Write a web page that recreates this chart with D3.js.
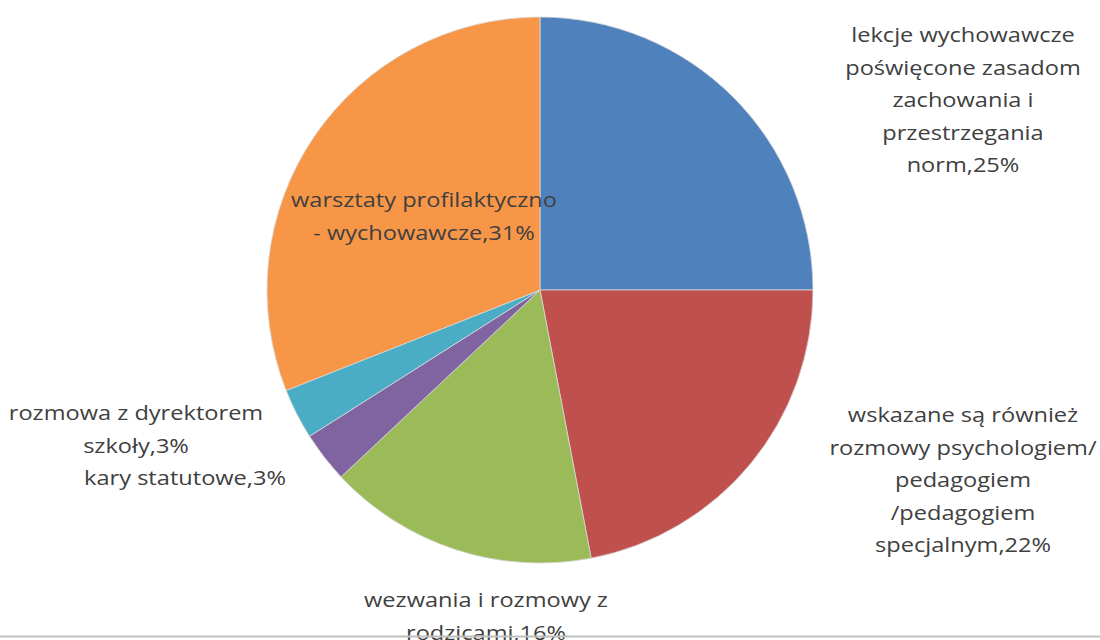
<!DOCTYPE html>
<html>
<head>
<meta charset="utf-8">
<script src="https://cdn.jsdelivr.net/npm/d3@7"></script>
<style>
  body { margin: 0; background: #fff; }
  svg { display: block; }
</style>
</head>
<body>
<div id="chart"></div>
<script>
var categories = [
  "lekcje wychowawcze poświęcone zasadom zachowania i przestrzegania norm",
  "wskazane są również rozmowy psychologiem/ pedagogiem /pedagogiem specjalnym",
  "wezwania i rozmowy z rodzicami",
  "kary statutowe",
  "rozmowa z dyrektorem szkoły",
  "warsztaty profilaktyczno - wychowawcze"
];
var values = [25, 22, 16, 3, 3, 31];
var colors = ["#4f81bd", "#c0504d", "#9bbb59", "#8064a2", "#4bacc6", "#f79646"];
// label text as wrapped in the chart
var labelLines = [
  ["lekcje wychowawcze", "poświęcone zasadom", "zachowania i", "przestrzegania", "norm,25%"],
  ["wskazane są również", "rozmowy psychologiem/", "pedagogiem", "/pedagogiem", "specjalnym,22%"],
  ["wezwania i rozmowy z", "rodzicami,16%"],
  ["kary statutowe,3%"],
  ["rozmowa z dyrektorem", "szkoły,3%"],
  ["warsztaty profilaktyczno", "- wychowawcze,31%"]
];

var width = 1100, height = 640;
var svg = d3.select("#chart").append("svg").attr("width", width).attr("height", height);

var cx = 540, cy = 290, radius = 273;
var g = svg.append("g").attr("transform", "translate(" + cx + "," + cy + ")");

var pie = d3.pie().sort(null).value(function (d) { return d; });
var arc = d3.arc().innerRadius(0).outerRadius(radius);
var arcs = pie(values);

g.selectAll(".slice")
  .data(arcs)
  .enter().append("path")
  .attr("class", "slice")
  .attr("d", arc)
  .attr("fill", function (d, i) { return colors[i]; })
  .attr("stroke", "#d8d8d8")
  .attr("stroke-width", 0.8);

// label anchor positions (center of first line), relative to the pie center
var labelPos = [
  {x: 423, y: -255},
  {x: 423, y: 125},
  {x: -54, y: 310},
  {x: -355, y: 188},
  {x: -404, y: 123},
  {x: -116, y: -90}
];
var lineH = 32.6;
var sx = 1.18;

var labels = g.selectAll(".lbl")
  .data(arcs)
  .enter().append("g")
  .attr("class", "lbl")
  .attr("transform", function (d, i) {
    return "translate(" + labelPos[i].x + "," + labelPos[i].y + ") scale(" + sx + ",1)";
  })
  .append("text")
  .attr("text-anchor", "middle")
  .style("font-family", "'Open Sans', 'Noto Sans', sans-serif")
  .style("font-size", "20px")
  .attr("fill", "#404040");

labels.each(function (d, i) {
  var t = d3.select(this);
  labelLines[i].forEach(function (line, j) {
    t.append("tspan")
      .attr("x", 0)
      .attr("y", j * lineH)
      .attr("dy", "0.35em")
      .text(line);
  });
});

// bottom border line
svg.append("line")
  .attr("x1", 0).attr("x2", width)
  .attr("y1", 636.5).attr("y2", 636.5)
  .attr("stroke", "#bfbfbf")
  .attr("stroke-width", 2);
</script>
</body>
</html>
